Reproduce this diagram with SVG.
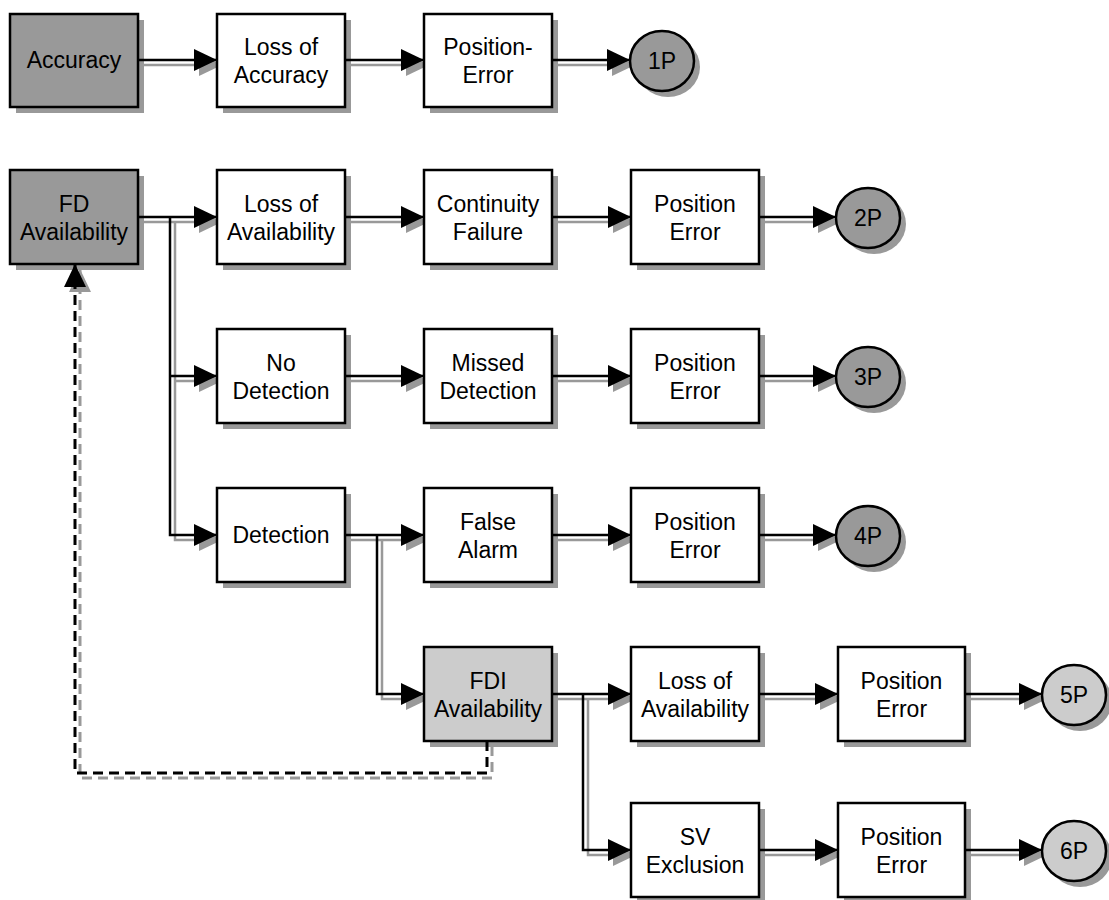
<svg xmlns="http://www.w3.org/2000/svg" width="1109" height="900" viewBox="0 0 1109 900">
<style>
.box{fill:#fff;stroke:#000;stroke-width:2.5}
.dark{fill:#999}
.light{fill:#ccc}
.sh{fill:#999;stroke:none}
.t{font-family:"Liberation Sans",Arial,sans-serif;font-size:23px;text-anchor:middle;fill:#000}
.c{fill:none;stroke:#000;stroke-width:2.5;marker-end:url(#a)}
.cs{fill:none;stroke:#999;stroke-width:2.5;marker-end:url(#as)}
.d{fill:none;stroke:#000;stroke-width:3;stroke-dasharray:10 6;marker-end:url(#a)}
.ds{fill:none;stroke:#999;stroke-width:3;stroke-dasharray:10 6;marker-end:url(#as)}
</style>
<defs>
<marker id="a" viewBox="0 0 23 22" markerWidth="23" markerHeight="22" refX="23" refY="11" orient="auto" markerUnits="userSpaceOnUse"><path d="M0,0 L23,11 L0,22 Z" fill="#000"/></marker>
<marker id="as" viewBox="0 0 23 22" markerWidth="23" markerHeight="22" refX="23" refY="11" orient="auto" markerUnits="userSpaceOnUse"><path d="M0,0 L23,11 L0,22 Z" fill="#999"/></marker>
</defs>
<rect width="1109" height="900" fill="#fff"/>

<g id="shadows" transform="translate(6,6)">
<rect class="sh" x="10" y="14" width="128" height="93"/>
<rect class="sh" x="217" y="14" width="128" height="93"/>
<rect class="sh" x="424" y="14" width="128" height="93"/>
<ellipse class="sh" cx="662" cy="61" rx="32" ry="30"/>
<rect class="sh" x="10" y="170" width="128" height="94"/>
<rect class="sh" x="217" y="170" width="128" height="94"/>
<rect class="sh" x="424" y="170" width="128" height="94"/>
<rect class="sh" x="631" y="170" width="128" height="94"/>
<ellipse class="sh" cx="868" cy="218" rx="32" ry="30"/>
<rect class="sh" x="217" y="329" width="128" height="94"/>
<rect class="sh" x="424" y="329" width="128" height="94"/>
<rect class="sh" x="631" y="329" width="128" height="94"/>
<ellipse class="sh" cx="868" cy="377" rx="32" ry="30"/>
<rect class="sh" x="217" y="488" width="128" height="94"/>
<rect class="sh" x="424" y="488" width="128" height="94"/>
<rect class="sh" x="631" y="488" width="128" height="94"/>
<ellipse class="sh" cx="868" cy="536" rx="32" ry="30"/>
<rect class="sh" x="424" y="647" width="128" height="94"/>
<rect class="sh" x="631" y="647" width="128" height="94"/>
<rect class="sh" x="838" y="647" width="127" height="94"/>
<ellipse class="sh" cx="1074" cy="695" rx="32" ry="30"/>
<rect class="sh" x="631" y="803" width="128" height="94"/>
<rect class="sh" x="838" y="803" width="127" height="94"/>
<ellipse class="sh" cx="1074" cy="851" rx="32" ry="30"/>
</g>

<g id="connectors">
<g id="connector-shadows" transform="translate(5,5)">
<path class="cs" d="M138,60 H217"/>
<path class="cs" d="M345,60 H424"/>
<path class="cs" d="M552,60 H630"/>
<path class="cs" d="M138,217 H217"/>
<path class="cs" d="M170,217 V535 H217"/>
<path class="cs" d="M170,376 H217"/>
<path class="cs" d="M345,217 H424"/>
<path class="cs" d="M552,217 H631"/>
<path class="cs" d="M759,217 H836"/>
<path class="cs" d="M345,376 H424"/>
<path class="cs" d="M552,376 H631"/>
<path class="cs" d="M759,376 H836"/>
<path class="cs" d="M345,535 H424"/>
<path class="cs" d="M377,535 V694 H424"/>
<path class="cs" d="M552,535 H631"/>
<path class="cs" d="M759,535 H836"/>
<path class="cs" d="M552,694 H631"/>
<path class="cs" d="M583,694 V850 H631"/>
<path class="cs" d="M759,694 H838"/>
<path class="cs" d="M965,694 H1042"/>
<path class="cs" d="M759,850 H838"/>
<path class="cs" d="M965,850 H1042"/>
<path class="ds" d="M487,741 V773 H75 V264"/>
</g>
<path class="c" d="M138,60 H217"/>
<path class="c" d="M345,60 H424"/>
<path class="c" d="M552,60 H630"/>
<path class="c" d="M138,217 H217"/>
<path class="c" d="M170,217 V535 H217"/>
<path class="c" d="M170,376 H217"/>
<path class="c" d="M345,217 H424"/>
<path class="c" d="M552,217 H631"/>
<path class="c" d="M759,217 H836"/>
<path class="c" d="M345,376 H424"/>
<path class="c" d="M552,376 H631"/>
<path class="c" d="M759,376 H836"/>
<path class="c" d="M345,535 H424"/>
<path class="c" d="M377,535 V694 H424"/>
<path class="c" d="M552,535 H631"/>
<path class="c" d="M759,535 H836"/>
<path class="c" d="M552,694 H631"/>
<path class="c" d="M583,694 V850 H631"/>
<path class="c" d="M759,694 H838"/>
<path class="c" d="M965,694 H1042"/>
<path class="c" d="M759,850 H838"/>
<path class="c" d="M965,850 H1042"/>
<path class="d" d="M487,741 V773 H75 V264"/>
</g>

<g id="n-accuracy"><rect class="box dark" x="10" y="14" width="128" height="93"/><text class="t" x="74" y="68">Accuracy</text></g>
<g id="n-loss-accuracy"><rect class="box" x="217" y="14" width="128" height="93"/><text class="t" x="281" y="55">Loss of</text><text class="t" x="281" y="83">Accuracy</text></g>
<g id="n-pos-error-1"><rect class="box" x="424" y="14" width="128" height="93"/><text class="t" x="488" y="55">Position-</text><text class="t" x="488" y="83">Error</text></g>
<g id="n-1p"><ellipse class="box dark" cx="662" cy="61" rx="32" ry="30"/><text class="t" x="662" y="69">1P</text></g>

<g id="n-fd-availability"><rect class="box dark" x="10" y="170" width="128" height="94"/><text class="t" x="74" y="212">FD</text><text class="t" x="74" y="240">Availability</text></g>
<g id="n-loss-availability-1"><rect class="box" x="217" y="170" width="128" height="94"/><text class="t" x="281" y="212">Loss of</text><text class="t" x="281" y="240">Availability</text></g>
<g id="n-continuity-failure"><rect class="box" x="424" y="170" width="128" height="94"/><text class="t" x="488" y="212">Continuity</text><text class="t" x="488" y="240">Failure</text></g>
<g id="n-pos-error-2"><rect class="box" x="631" y="170" width="128" height="94"/><text class="t" x="695" y="212">Position</text><text class="t" x="695" y="240">Error</text></g>
<g id="n-2p"><ellipse class="box dark" cx="868" cy="218" rx="32" ry="30"/><text class="t" x="868" y="226">2P</text></g>

<g id="n-no-detection"><rect class="box" x="217" y="329" width="128" height="94"/><text class="t" x="281" y="371">No</text><text class="t" x="281" y="399">Detection</text></g>
<g id="n-missed-detection"><rect class="box" x="424" y="329" width="128" height="94"/><text class="t" x="488" y="371">Missed</text><text class="t" x="488" y="399">Detection</text></g>
<g id="n-pos-error-3"><rect class="box" x="631" y="329" width="128" height="94"/><text class="t" x="695" y="371">Position</text><text class="t" x="695" y="399">Error</text></g>
<g id="n-3p"><ellipse class="box dark" cx="868" cy="377" rx="32" ry="30"/><text class="t" x="868" y="385">3P</text></g>

<g id="n-detection"><rect class="box" x="217" y="488" width="128" height="94"/><text class="t" x="281" y="543">Detection</text></g>
<g id="n-false-alarm"><rect class="box" x="424" y="488" width="128" height="94"/><text class="t" x="488" y="530">False</text><text class="t" x="488" y="558">Alarm</text></g>
<g id="n-pos-error-4"><rect class="box" x="631" y="488" width="128" height="94"/><text class="t" x="695" y="530">Position</text><text class="t" x="695" y="558">Error</text></g>
<g id="n-4p"><ellipse class="box dark" cx="868" cy="536" rx="32" ry="30"/><text class="t" x="868" y="544">4P</text></g>

<g id="n-fdi-availability"><rect class="box light" x="424" y="647" width="128" height="94"/><text class="t" x="488" y="689">FDI</text><text class="t" x="488" y="717">Availability</text></g>
<g id="n-loss-availability-2"><rect class="box" x="631" y="647" width="128" height="94"/><text class="t" x="695" y="689">Loss of</text><text class="t" x="695" y="717">Availability</text></g>
<g id="n-pos-error-5"><rect class="box" x="838" y="647" width="127" height="94"/><text class="t" x="901.5" y="689">Position</text><text class="t" x="901.5" y="717">Error</text></g>
<g id="n-5p"><ellipse class="box light" cx="1074" cy="695" rx="32" ry="30"/><text class="t" x="1074" y="703">5P</text></g>

<g id="n-sv-exclusion"><rect class="box" x="631" y="803" width="128" height="94"/><text class="t" x="695" y="845">SV</text><text class="t" x="695" y="873">Exclusion</text></g>
<g id="n-pos-error-6"><rect class="box" x="838" y="803" width="127" height="94"/><text class="t" x="901.5" y="845">Position</text><text class="t" x="901.5" y="873">Error</text></g>
<g id="n-6p"><ellipse class="box light" cx="1074" cy="851" rx="32" ry="30"/><text class="t" x="1074" y="859">6P</text></g>
</svg>
